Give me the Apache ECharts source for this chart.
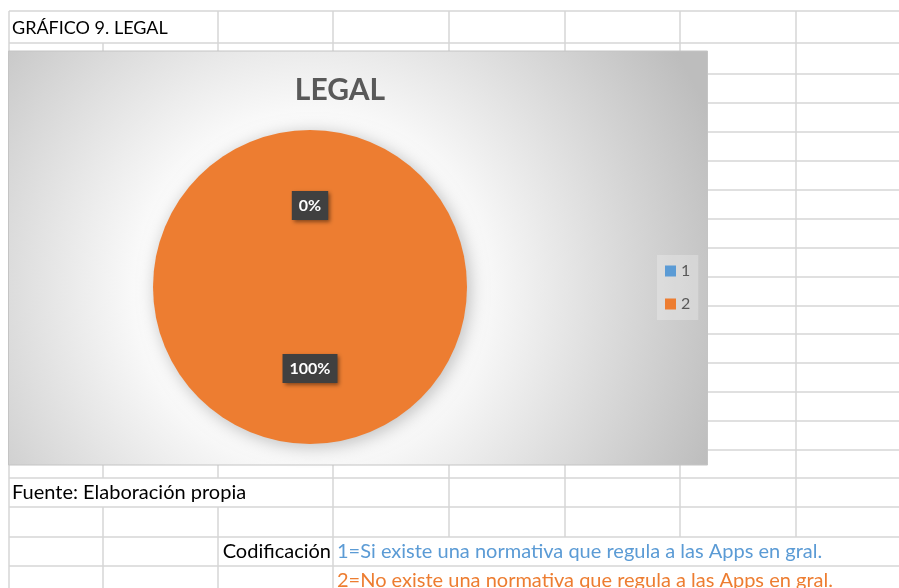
<!DOCTYPE html>
<html>
<head>
<meta charset="utf-8">
<title>GRÁFICO 9. LEGAL</title>
<script src="https://cdn.jsdelivr.net/npm/echarts@6/dist/echarts.min.js"></script>
<style>
  html, body { margin: 0; padding: 0; background: #fff; }
  #chart { width: 899px; height: 588px; }
</style>
</head>
<body>
<div id="chart"></div>
<script>
// datos del gráfico
const categories = ['1', '2']
const values = [0, 100]
const colors = ['#5B9BD5', '#ED7D31']

// textos de la hoja
const sheetTitle = 'GRÁFICO 9. LEGAL'
const chartTitle = 'LEGAL'
const sourceText = 'Fuente: Elaboración propia'
const codeLabel = 'Codificación'
const codeTexts = [
  '1=Si existe una normativa que regula a las Apps en gral.',
  '2=No existe una normativa que regula a las Apps en gral.'
]

// cuadrícula de la hoja (solo decoración)
const rowLines = [11, 43, 74, 103, 132, 161, 190, 219, 248, 277, 306, 334, 363, 392, 421, 450, 478, 507, 537, 566]
const colLines = [9, 103, 218, 333, 449, 565, 680, 796]
const gridColor = '#d6d6d6'
const sheetFont = 'Lato, "Liberation Sans", sans-serif'

// tramos ocultos por texto desbordado
const hiddenSpans = {
  103: [[11, 43], [478, 507]],
  218: [[478, 507]],
  449: [[537, 588]],
  565: [[537, 588]],
  680: [[537, 588]],
  796: [[537, 588]]
}

const buildGrid = () => {
  const els = []
  rowLines.forEach(y => {
    els.push({
      type: 'line', z: 0, silent: true,
      shape: { x1: 9, y1: y, x2: 899, y2: y },
      style: { stroke: gridColor, lineWidth: 1.5 }
    })
  })
  colLines.forEach(x => {
    let start = 11
    const gaps = (hiddenSpans[x] || []).concat([[588, 588]])
    gaps.forEach(g => {
      if (g[0] > start) {
        els.push({
          type: 'line', z: 0, silent: true,
          shape: { x1: x, y1: start, x2: x, y2: g[0] },
          style: { stroke: gridColor, lineWidth: 1.5 }
        })
      }
      start = g[1]
    })
  })
  return els
}

const sheetText = (text, x, y, color, size, align) => ({
  type: 'text', z: 1, silent: true,
  x: x, y: y,
  style: {
    text: text,
    fill: color,
    font: size + 'px ' + sheetFont,
    textAlign: align || 'left',
    textVerticalAlign: 'middle'
  }
})

const chart = echarts.init(document.getElementById('chart'))

const option = {
  backgroundColor: '#ffffff',
  animation: false,
  color: colors,
  title: {
    text: chartTitle,
    left: 335,
    top: 70,
    textAlign: 'center',
    textStyle: {
      fontFamily: 'Lato, sans-serif',
      fontSize: 30,
      fontWeight: 'bold',
      color: '#595959'
    },
    z: 3
  },
  legend: {
    orient: 'vertical',
    left: 657,
    top: 255,
    padding: [8, 8, 8, 8],
    backgroundColor: 'rgba(255,255,255,0.25)',
    itemWidth: 11,
    itemHeight: 11,
    itemGap: 17,
    icon: 'rect',
    data: categories,
    textStyle: {
      fontFamily: 'Lato, sans-serif',
      fontSize: 16,
      color: '#595959'
    }
  },
  graphic: buildGrid().concat([
    {
      type: 'rect', z: 1, silent: true,
      shape: { x: 8.5, y: 51, width: 699, height: 414 },
      style: {
        fill: new echarts.graphic.RadialGradient(0.43, 0.57, 1.05, [
          { offset: 0, color: '#ffffff' },
          { offset: 0.38, color: '#fbfbfb' },
          { offset: 1, color: '#bdbdbd' }
        ]),
        stroke: '#c4c4c4',
        lineWidth: 1
      }
    },
    sheetText(sheetTitle, 12, 28, '#000000', 18),
    sheetText(sourceText, 12, 493, '#000000', 20),
    sheetText(codeLabel, 331, 552, '#000000', 20, 'right'),
    sheetText(codeTexts[0], 337, 552, colors[0], 20),
    sheetText(codeTexts[1], 337, 581, colors[1], 20)
  ]),
  series: [
    {
      name: chartTitle,
      type: 'pie',
      center: [310, 287],
      radius: 157,
      startAngle: 90,
      clockwise: true,
      minShowLabelAngle: 0,
      z: 2,
      itemStyle: {
        shadowBlur: 18,
        shadowOffsetX: 3,
        shadowOffsetY: 3,
        shadowColor: 'rgba(0,0,0,0.25)'
      },
      label: {
        show: true,
        position: 'inside',
        formatter: p => Math.round(p.percent) + '%',
        fontFamily: 'Lato, sans-serif',
        fontSize: 16,
        fontWeight: 'bold',
        color: '#ffffff',
        backgroundColor: '#404040',
        padding: [6, 7, 5, 7],
        lineHeight: 18,
        shadowBlur: 4,
        shadowOffsetX: 2,
        shadowOffsetY: 2,
        shadowColor: 'rgba(0,0,0,0.45)'
      },
      labelLine: { show: false },
      emphasis: { disabled: true },
      data: categories.map((c, i) => ({ name: c, value: values[i] }))
    }
  ]
}

chart.setOption(option)
</script>
</body>
</html>
